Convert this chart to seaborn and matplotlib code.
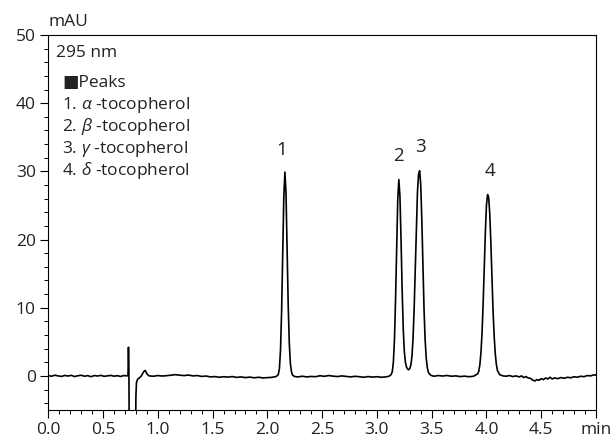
import matplotlib
matplotlib.use("Agg")
import matplotlib.pyplot as plt
import seaborn as sns
from matplotlib.ticker import MultipleLocator

# ---- chromatogram trace (time in min, signal in mAU) ----
time_min = [
    0.00, 0.03, 0.06, 0.09, 0.12, 0.15, 0.18, 0.21, 0.24, 0.27, 0.30, 0.33, 0.36,
    0.39, 0.42, 0.45, 0.48, 0.51, 0.54, 0.57, 0.60, 0.63, 0.66, 0.69, 0.72,
    0.728, 0.732, 0.736, 0.740, 0.795, 0.800, 0.805, 0.815, 0.83, 0.85, 0.87,
    0.885, 0.90, 0.92,
    0.96, 1.00, 1.04, 1.08, 1.12, 1.16, 1.20, 1.24, 1.28, 1.32, 1.36, 1.40,
    1.44, 1.48, 1.52, 1.56, 1.60, 1.64, 1.68, 1.72, 1.76, 1.80, 1.84, 1.88,
    1.92, 1.96, 2.00, 2.04, 2.06,
    2.08, 2.10, 2.11, 2.12, 2.13, 2.14, 2.15, 2.16, 2.17, 2.18, 2.19, 2.20,
    2.21, 2.22, 2.23, 2.25, 2.28,
    2.32, 2.36, 2.40, 2.44, 2.48, 2.52, 2.56, 2.60, 2.64, 2.68, 2.72, 2.76,
    2.80, 2.84, 2.88, 2.92, 2.96, 3.00, 3.04, 3.08, 3.11,
    3.13, 3.14, 3.15, 3.16, 3.17, 3.18, 3.19, 3.20, 3.21, 3.22, 3.23, 3.24,
    3.25, 3.26, 3.27, 3.28, 3.29, 3.30, 3.31, 3.32, 3.33, 3.34, 3.35, 3.36,
    3.37, 3.38, 3.39, 3.40, 3.41, 3.42, 3.43, 3.44, 3.45, 3.46, 3.47, 3.49,
    3.52,
    3.56, 3.60, 3.64, 3.68, 3.72, 3.76, 3.80, 3.84, 3.88,
    3.92, 3.93, 3.94, 3.95, 3.96, 3.97, 3.98, 3.99, 4.00, 4.01, 4.02, 4.03,
    4.04, 4.05, 4.06, 4.07, 4.08, 4.09, 4.10, 4.12, 4.15,
    4.18, 4.21, 4.24, 4.27, 4.30, 4.32, 4.34, 4.36, 4.38, 4.40, 4.42, 4.44,
    4.46, 4.48, 4.50, 4.52, 4.54, 4.56, 4.58, 4.60, 4.62, 4.65, 4.68, 4.71,
    4.74, 4.77, 4.80, 4.83, 4.86, 4.89, 4.92, 4.95, 4.98, 5.00,
]
signal_mau = [
    0.05, -0.05, 0.10, 0.00, -0.08, 0.06, -0.02, 0.08, -0.10, 0.02, 0.10, -0.05, 0.04,
    -0.12, 0.05, -0.02, 0.08, -0.06, 0.00, 0.07, -0.04, 0.03, -0.08, 0.05, 0.00,
    0.2, 4.2, 1.0, -12.0, -12.0, -3.0, -1.0, -0.5, -0.3, 0.0, 0.6,
    0.8, 0.3, 0.0,
    -0.05, 0.05, -0.02, 0.03, 0.10, 0.18, 0.10, 0.05, 0.12, 0.00, 0.05, -0.08,
    -0.02, -0.15, -0.10, -0.20, -0.12, -0.18, -0.10, -0.22, -0.15, -0.25, -0.18, -0.28,
    -0.20, -0.30, -0.25, -0.22, -0.15,
    -0.1, 0.2, 1.1, 3.8, 9.5, 17.9, 26.2, 29.9, 26.8, 19.0, 10.5, 4.8,
    1.8, 0.6, 0.1, -0.1, -0.15,
    -0.05, -0.15, -0.08, -0.12, 0.02, -0.06, 0.05, -0.04, -0.10, 0.00, -0.08, -0.15,
    -0.06, -0.12, -0.20, -0.10, -0.18, -0.12, -0.20, -0.15, -0.05,
    0.2, 0.6, 2.0, 5.3, 11.2, 18.8, 25.8, 28.8, 26.4, 20.0, 12.8, 7.0,
    3.6, 2.0, 1.3, 1.0, 0.9, 1.1, 1.6, 2.9, 5.6, 10.0, 15.8, 22.0,
    27.0, 29.6, 30.1, 28.0, 22.8, 16.0, 9.8, 5.3, 2.6, 1.2, 0.5, 0.1,
    -0.05,
    0.05, -0.02, 0.06, -0.05, 0.00, -0.10, -0.04, -0.12, -0.06,
    0.3, 0.7, 1.7, 3.5, 6.5, 10.8, 16.0, 21.2, 25.1, 26.6, 26.2, 23.8,
    19.5, 14.5, 9.6, 5.9, 3.3, 1.7, 0.8, 0.2, 0.0,
    -0.05, 0.05, -0.10, 0.00, -0.15, 0.00, -0.25, -0.10, -0.30, -0.35, -0.60, -0.75,
    -0.55, -0.65, -0.40, -0.55, -0.30, -0.45, -0.20, -0.45, -0.30, -0.40, -0.25, -0.35,
    -0.20, -0.28, -0.12, -0.20, -0.05, -0.12, 0.05, 0.00, 0.15, 0.12,
]

# peak numbers and where they sit
peak_labels = ["1", "2", "3", "4"]
peak_label_x = [2.13, 3.20, 3.40, 4.03]
peak_label_y = [33.2, 32.3, 33.6, 30.0]

legend_lines = [
    r"1. $\alpha$ -tocopherol",
    r"2. $\beta$ -tocopherol",
    r"3. $\gamma$ -tocopherol",
    r"4. $\delta$ -tocopherol",
]

x_ticks = [0.0, 0.5, 1.0, 1.5, 2.0, 2.5, 3.0, 3.5, 4.0, 4.5, 5.0]
x_tick_labels = ["0.0", "0.5", "1.0", "1.5", "2.0", "2.5", "3.0", "3.5", "4.0", "4.5", "min"]
y_ticks = [0, 10, 20, 30, 40, 50]

sns.set_style("ticks")
plt.rcParams["font.family"] = ["Open Sans", "DejaVu Sans"]
plt.rcParams["mathtext.fontset"] = "custom"
plt.rcParams["mathtext.rm"] = "Open Sans"
plt.rcParams["mathtext.it"] = "Open Sans:italic"

txt = "#222222"
fs = 12.5

fig = plt.figure(figsize=(6.11, 4.45), dpi=100)
ax = fig.add_axes([0.079, 0.0787, 0.8965, 0.8426])

sns.lineplot(x=time_min, y=signal_mau, ax=ax, color="black", linewidth=1.2,
             estimator=None, sort=False)

ax.set_xlim(0, 5.0)
ax.set_ylim(-5, 50)
ax.set_xticks(x_ticks)
ax.set_xticklabels(x_tick_labels)
ax.set_yticks(y_ticks)
ax.xaxis.set_minor_locator(MultipleLocator(0.1))
ax.yaxis.set_minor_locator(MultipleLocator(2))
ax.tick_params(which="major", direction="out", length=6, width=0.8,
               labelsize=fs, labelcolor=txt, color="black", pad=3)
ax.tick_params(which="minor", direction="out", length=3, width=0.7, color="black")
for s in ax.spines.values():
    s.set_visible(True)
    s.set_color("black")
    s.set_linewidth(0.8)
ax.set_xlabel("")
ax.set_ylabel("")

# unit above y axis
ax.text(0.0, 1.035, "mAU", transform=ax.transAxes, ha="left", va="center",
        fontsize=fs, color=txt)

ax.text(0.014, 0.952, "295 nm", transform=ax.transAxes, ha="left", va="center",
        fontsize=fs, color=txt)
ax.text(0.025, 0.872, "\u25a0Peaks", transform=ax.transAxes, ha="left", va="center",
        fontsize=fs, color=txt)
legend_y = [0.813, 0.755, 0.697, 0.639]
for line, yy in zip(legend_lines, legend_y):
    ax.text(0.025, yy, line, transform=ax.transAxes, ha="left", va="center",
            fontsize=fs, color=txt)

for lab, px, py in zip(peak_labels, peak_label_x, peak_label_y):
    ax.text(px, py, lab, ha="center", va="center", fontsize=fs + 1, color=txt)

fig.savefig("out.png", dpi=100)
